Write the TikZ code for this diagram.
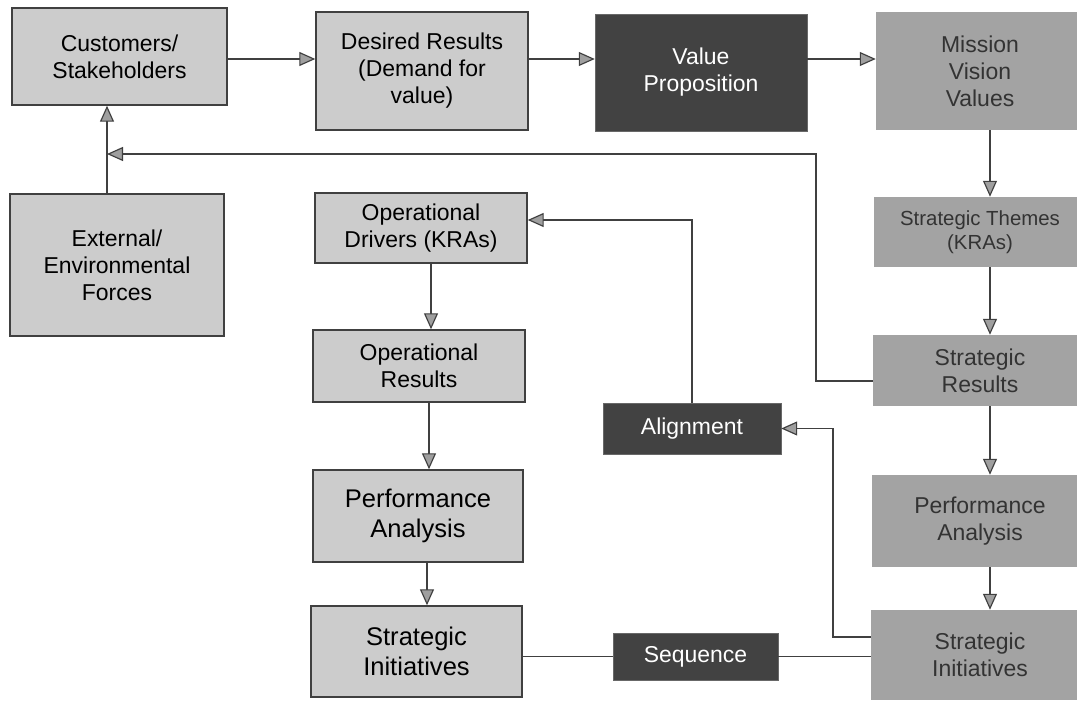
\documentclass[tikz,border=0pt]{standalone}
\usepackage{fontspec}
\setmainfont{Liberation Sans}
\usepackage{xcolor}
\usetikzlibrary{arrows.meta}

\definecolor{boxlight}{gray}{0.80}
\definecolor{boxmid}{gray}{0.64}
\definecolor{boxdark}{gray}{0.26}
\definecolor{edgegray}{gray}{0.25}

\begin{document}
\begin{tikzpicture}[x=0.3mm, y=-0.3mm,
    >={Triangle[length=4.8mm, width=4.2mm, fill=gray!75]},
    every node/.style={font=\fontsize{19.6}{23}\selectfont, align=center, inner sep=0pt},
    light/.style={draw=edgegray, line width=1.2pt, fill=boxlight},
    mid/.style={fill=boxmid, text=black!80},
    dark/.style={draw=boxdark!80, fill=boxdark, text=white},
    big/.style={font=\fontsize{21.8}{25.6}\selectfont},
    link/.style={draw=edgegray, line width=1pt},
]
  \clip (0,0) rectangle (1077,702);
  \fill[white] (0,0) rectangle (1077,702);

  \node[light, minimum width=64.5mm, minimum height=29.1mm] (cust) at (119.5,56.5) {Customers/\\Stakeholders};
  \node[light, minimum width=63.6mm, minimum height=35.4mm] (des) at (422,71) {Desired Results\\(Demand for\\value)};
  \node[dark, minimum width=63.6mm, minimum height=35.1mm] (val) at (701,72.5) {Value\\Proposition};
  \node[mid, minimum width=62.4mm, minimum height=35.4mm] (mis) at (980,71) {Mission\\Vision\\Values};
  \node[light, minimum width=64.2mm, minimum height=42.6mm] (ext) at (117,265) {External/\\Environmental\\Forces};
  \node[light, minimum width=63.6mm, minimum height=21mm] (drv) at (421,228) {Operational\\Drivers (KRAs)};
  \node[mid, minimum width=63.6mm, minimum height=21mm, font=\fontsize{17.4}{20.5}\selectfont] (thm) at (980,232) {Strategic Themes\\(KRAs)};
  \node[light, minimum width=63.6mm, minimum height=21.6mm] (ores) at (419,366) {Operational\\Results};
  \node[mid, minimum width=64.2mm, minimum height=21.3mm] (sres) at (980,370.5) {Strategic\\Results};
  \node[dark, minimum width=53.4mm, minimum height=15.3mm] (aln) at (692,428.5) {Alignment};
  \node[light, big, minimum width=63mm, minimum height=27.6mm] (perfL) at (418,516) {Performance\\Analysis};
  \node[mid, minimum width=64.8mm, minimum height=27.6mm] (perfR) at (980,521) {Performance\\Analysis};
  \node[light, big, minimum width=63.3mm, minimum height=27.3mm] (siL) at (416.5,651.5) {Strategic\\Initiatives};
  \node[dark, minimum width=49.5mm, minimum height=14.1mm] (seq) at (695.5,656.5) {Sequence};
  \node[mid, minimum width=65.4mm, minimum height=27mm] (siR) at (980,655) {Strategic\\Initiatives};

  \coordinate (toprow) at (0,59);
  \coordinate (fb) at (107,154);
  \coordinate (fbr) at (816,154);
  \coordinate (ret) at (833,428.5);

  \draw[link,->] (cust.east |- toprow) -- (des.west |- toprow);
  \draw[link,->] (des.east |- toprow) -- (val.west |- toprow);
  \draw[link,->] (val.east |- toprow) -- (mis.west |- toprow);
  \draw[link,->] ([xshift=3mm]mis.south) -- ([xshift=3mm]mis.south |- thm.north);
  \draw[link,->] ([xshift=3mm]thm.south) -- ([xshift=3mm]thm.south |- sres.north);
  \draw[link,->] ([xshift=3mm]sres.south) -- ([xshift=3mm]sres.south |- perfR.north);
  \draw[link,->] ([xshift=3mm]perfR.south) -- ([xshift=3mm]perfR.south |- siR.north);
  \draw[link,->] (ext.north -| fb) -- (cust.south -| fb);
  \draw[link,->] ([yshift=-3.15mm]sres.west) -| (fbr) -- (fb);
  \draw[link,->] (aln.north) |- ([yshift=2.4mm]drv.east);
  \draw[link,->] ([yshift=5.4mm]siR.west) -| (ret) -- (aln.east);
  \draw[link,->] ([xshift=3mm]drv.south) -- ([xshift=3mm]drv.south |- ores.north);
  \draw[link,->] ([xshift=3mm]ores.south) -- ([xshift=3mm]ores.south |- perfL.north);
  \draw[link,->] ([xshift=2.7mm]perfL.south) -- ([xshift=2.7mm]perfL.south |- siL.north);
  \draw[link] (siL.east |- seq) -- (seq.west);
  \draw[link] (seq.east) -- (seq -| siR.west);
\end{tikzpicture}
\end{document}
